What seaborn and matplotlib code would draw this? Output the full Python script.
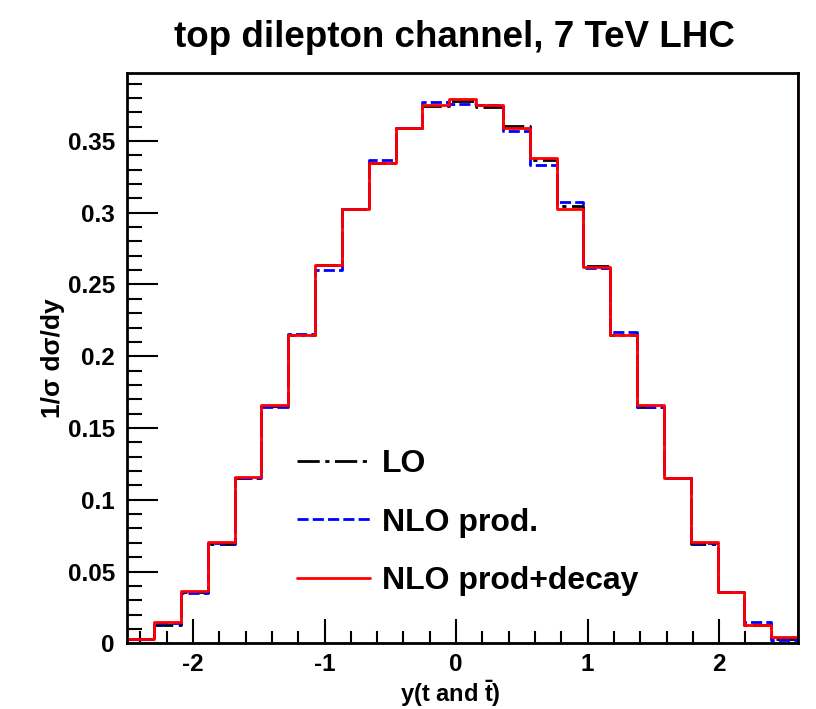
import numpy as np
import pandas as pd
import matplotlib
matplotlib.use("Agg")
import matplotlib.pyplot as plt
import seaborn as sns

# bin edges of y(t and tbar): 25 bins across the plotted range
bin_edges = np.linspace(-2.5, 2.6, 26)

# normalised distributions 1/sigma dsigma/dy
lo_vals = [0.0030, 0.0130, 0.0360, 0.0694, 0.1155, 0.1650, 0.2148, 0.2636, 0.3026,
           0.3350, 0.3590, 0.3744, 0.3780, 0.3740, 0.3607, 0.3368, 0.3047, 0.2630,
           0.2150, 0.1645, 0.1154, 0.0694, 0.0360, 0.0130, 0.0030]
nlo_prod_vals = [0.0030, 0.0138, 0.0348, 0.0700, 0.1150, 0.1645, 0.2155, 0.2600, 0.3026,
                 0.3368, 0.3590, 0.3770, 0.3758, 0.3750, 0.3572, 0.3333, 0.3077, 0.2617,
                 0.2171, 0.1645, 0.1154, 0.0700, 0.0355, 0.0146, 0.0023]
nlo_decay_vals = [0.0030, 0.0146, 0.0367, 0.0708, 0.1161, 0.1660, 0.2148, 0.2636, 0.3026,
                  0.3350, 0.3590, 0.3750, 0.3790, 0.3750, 0.3590, 0.3380, 0.3026, 0.2624,
                  0.2148, 0.1660, 0.1154, 0.0708, 0.0355, 0.0128, 0.0042]

series_labels = ["LO", "NLO prod.", "NLO prod+decay"]
y_ticks = [0, 0.05, 0.1, 0.15, 0.2, 0.25, 0.3, 0.35]
x_ticks = [-2, -1, 0, 1, 2]

sns.set_style("white")
plt.rcParams['font.family'] = ['Liberation Sans', 'DejaVu Sans']
plt.rcParams['font.weight'] = 'bold'
plt.rcParams['text.color'] = 'black'
plt.rcParams['axes.labelcolor'] = 'black'
plt.rcParams['mathtext.fontset'] = 'custom'
plt.rcParams['mathtext.rm'] = 'Liberation Sans:bold'
plt.rcParams['mathtext.bf'] = 'Liberation Sans:bold'
plt.rcParams['mathtext.it'] = 'Liberation Sans:bold'

fig = plt.figure(figsize=(8.16, 7.09), dpi=100)
ax = fig.add_axes([0.156, 0.0927, 0.822, 0.8048])

centers = 0.5 * (bin_edges[:-1] + bin_edges[1:])

styles = [
    dict(color="black", linestyle=(0, (8, 2, 1.5, 2)), linewidth=2),
    dict(color="blue", linestyle=(0, (4, 1.5)), linewidth=2),
    dict(color="red", linestyle="-", linewidth=2),
]
all_vals = [lo_vals, nlo_prod_vals, nlo_decay_vals]

handles = []
for vals, st, lab in zip(all_vals, styles, series_labels):
    df = pd.DataFrame({"y": centers, "w": vals})
    n_before = len(ax.lines)
    sns.histplot(data=df, x="y", weights="w", bins=list(bin_edges), element="step",
                 fill=False, ax=ax, **st)
    line = ax.lines[n_before]
    line.set_label(lab)
    handles.append(line)

# ROOT leaves the red outline running up the last edge and along zero
ax.axvline(bin_edges[-1], color="red", linewidth=2, zorder=1)
ax.axhline(0, color="#ff9090", linewidth=2, zorder=1)

ax.set_xlim(bin_edges[0], bin_edges[-1])
ax.set_ylim(0, 0.3976)

ax.set_xticks(x_ticks)
ax.set_xticklabels([str(t) for t in x_ticks])
ax.set_xticks(np.arange(-2.4, 2.61, 0.2), minor=True)
ax.set_yticks(y_ticks)
ax.set_yticklabels(["%g" % t for t in y_ticks])
ax.set_yticks(np.arange(0, 0.395, 0.01), minor=True)

ax.tick_params(axis="both", which="both", direction="in", colors="black",
               labelsize=17.5, top=False, right=False, bottom=True, left=True)
ax.tick_params(axis="x", which="major", length=17, width=1.5, pad=7)
ax.tick_params(axis="x", which="minor", length=9, width=1.5)
ax.tick_params(axis="y", which="major", length=22, width=1.5, pad=9)
ax.tick_params(axis="y", which="minor", length=11, width=1.5)
for lab in ax.get_xticklabels() + ax.get_yticklabels():
    lab.set_fontweight("bold")

for sp in ax.spines.values():
    sp.set_color("black")
    sp.set_linewidth(2)

ax.set_xlabel(r"y(t and $\bar{\mathrm{t}}$)", fontsize=17, fontweight="bold")
ax.xaxis.set_label_coords(0.481, -0.062)
ax.set_ylabel("1/\u03c3 d\u03c3/dy", fontsize=19, fontweight="bold")
ax.yaxis.set_label_coords(-0.093, 0.5)
fig.suptitle("top dilepton channel, 7 TeV LHC", fontsize=26.5, fontweight="bold",
             x=0.557, y=0.972)

ax.legend(handles=handles, loc="upper left", bbox_to_anchor=(0.21, 0.39),
          frameon=False, prop={"weight": "bold", "size": 23},
          handlelength=2.3, labelspacing=0.88, handletextpad=0.35)

fig.savefig("out.png", dpi=100)
